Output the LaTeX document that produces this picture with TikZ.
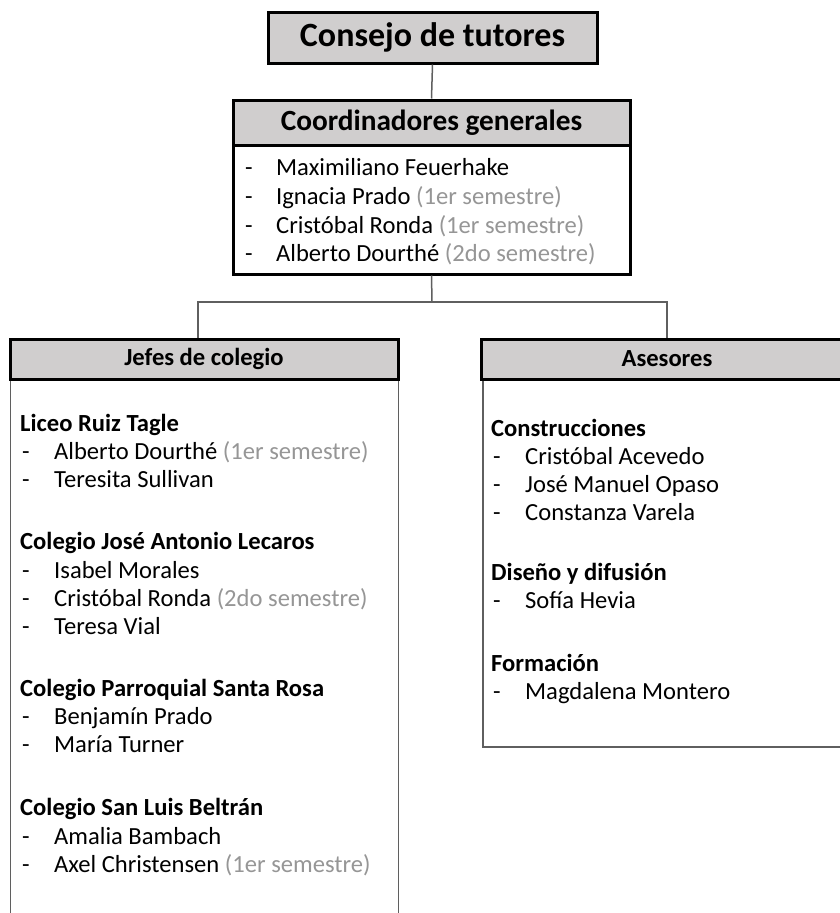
\documentclass[tikz,border=0pt]{standalone}
\usepackage{fontspec}
\setmainfont{Carlito}
\definecolor{hdr}{RGB}{208,206,206}
\definecolor{semgray}{RGB}{150,150,150}
\definecolor{linegray}{RGB}{95,95,95}
\begin{document}
\begin{tikzpicture}[x=1pt,y=-1pt,
  hbox/.style={draw=black,line width=3pt,fill=hdr,inner sep=0pt},
  bodybox/.style={draw=black,line width=3pt,fill=white,inner sep=0pt},
  thinbox/.style={draw=linegray,line width=1.5pt,inner sep=0pt},
  conn/.style={draw=linegray,line width=1.5pt},
  item/.style={anchor=base west,inner sep=0pt,font=\fontsize{24.6}{28}\selectfont},
  bitem/.style={anchor=base west,inner sep=0pt,font=\fontsize{24.6}{28}\selectfont\bfseries}]
\useasboundingbox (0,0) rectangle (840,913);
\clip (0,0) rectangle (840,913);
\fill[white] (0,0) rectangle (840,913);

% top
\node[hbox,minimum width=329,minimum height=51,font=\fontsize{34}{40}\selectfont\bfseries] (title) at (432.5,37.5) {Consejo de tutores};
\node[bodybox,minimum width=397,minimum height=129] (coordb) at (431.5,209.5) {};
\node[hbox,minimum width=397,minimum height=45,font=\fontsize{29.3}{34}\selectfont\bfseries] (coordh) at (431.5,122.5) {Coordinadores generales};

\draw[conn] (title.south) -- (coordh.north);

\node[item] (cd1) at (245,175) {-};
\node[item] (cd2) at (245,204) {-};
\node[item] (cd3) at (245,233) {-};
\node[item] (cd4) at (245,261) {-};
\node[item] (cn1) at (276,175) {Maximiliano Feuerhake};
\node[item] (cn2) at (276,204) {Ignacia Prado \textcolor{semgray}{(1er semestre)}};
\node[item] (cn3) at (276,233) {Cristóbal Ronda \textcolor{semgray}{(1er semestre)}};
\node[item] (cn4) at (276,261) {Alberto Dourthé \textcolor{semgray}{(2do semestre)}};

% second level
\node[thinbox,minimum width=371,minimum height=367,anchor=north west] (asb) at (482,379) {};
\node[hbox,minimum width=388,minimum height=40,font=\fontsize{24.6}{28}\selectfont\bfseries] (jefh) at (204,359) {Jefes de colegio};
\node[hbox,minimum width=372,minimum height=40,font=\fontsize{24.6}{28}\selectfont\bfseries] (aseh) at (667,359) {Asesores};

\coordinate (split) at (432,302);
\draw[conn] (coordb.south) -- (split);
\draw[conn] (split) -| ([xshift=-6pt]jefh.north);
\draw[conn] (split) -| (aseh.north);

\draw[conn] ([xshift=2pt]jefh.south west) -- ++(0,560);
\draw[conn] ([xshift=-1pt]jefh.south east) -- ++(0,560);

% left list
\node[bitem] (l1) at (20,431) {Liceo Ruiz Tagle};
\node[item] (l1d1) at (22,459) {-};
\node[item] (l1d2) at (22,487) {-};
\node[item] (l1n1) at (54,459) {Alberto Dourthé \textcolor{semgray}{(1er semestre)}};
\node[item] (l1n2) at (54,487) {Teresita Sullivan};

\node[bitem] (l2) at (20,549) {Colegio José Antonio Lecaros};
\node[item] (l2d1) at (22,578) {-};
\node[item] (l2d2) at (22,606) {-};
\node[item] (l2d3) at (22,634) {-};
\node[item] (l2n1) at (54,578) {Isabel Morales};
\node[item] (l2n2) at (54,606) {Cristóbal Ronda \textcolor{semgray}{(2do semestre)}};
\node[item] (l2n3) at (54,634) {Teresa Vial};

\node[bitem] (l3) at (20,696) {Colegio Parroquial Santa Rosa};
\node[item] (l3d1) at (22,724) {-};
\node[item] (l3d2) at (22,752) {-};
\node[item] (l3n1) at (54,724) {Benjamín Prado};
\node[item] (l3n2) at (54,752) {María Turner};

\node[bitem] (l4) at (20,815) {Colegio San Luis Beltrán};
\node[item] (l4d1) at (22,844) {-};
\node[item] (l4d2) at (22,872) {-};
\node[item] (l4n1) at (54,844) {Amalia Bambach};
\node[item] (l4n2) at (54,872) {Axel Christensen \textcolor{semgray}{(1er semestre)}};

% right list
\node[bitem] (r1) at (491,436) {Construcciones};
\node[item] (r1d1) at (493,464) {-};
\node[item] (r1d2) at (493,492) {-};
\node[item] (r1d3) at (493,520) {-};
\node[item] (r1n1) at (525,464) {Cristóbal Acevedo};
\node[item] (r1n2) at (525,492) {José Manuel Opaso};
\node[item] (r1n3) at (525,520) {Constanza Varela};

\node[bitem] (r2) at (491,580) {Diseño y difusión};
\node[item] (r2d1) at (493,608) {-};
\node[item] (r2n1) at (525,608) {Sofía Hevia};

\node[bitem] (r3) at (491,671) {Formación};
\node[item] (r3d1) at (493,699) {-};
\node[item] (r3n1) at (525,699) {Magdalena Montero};
\end{tikzpicture}
\end{document}
